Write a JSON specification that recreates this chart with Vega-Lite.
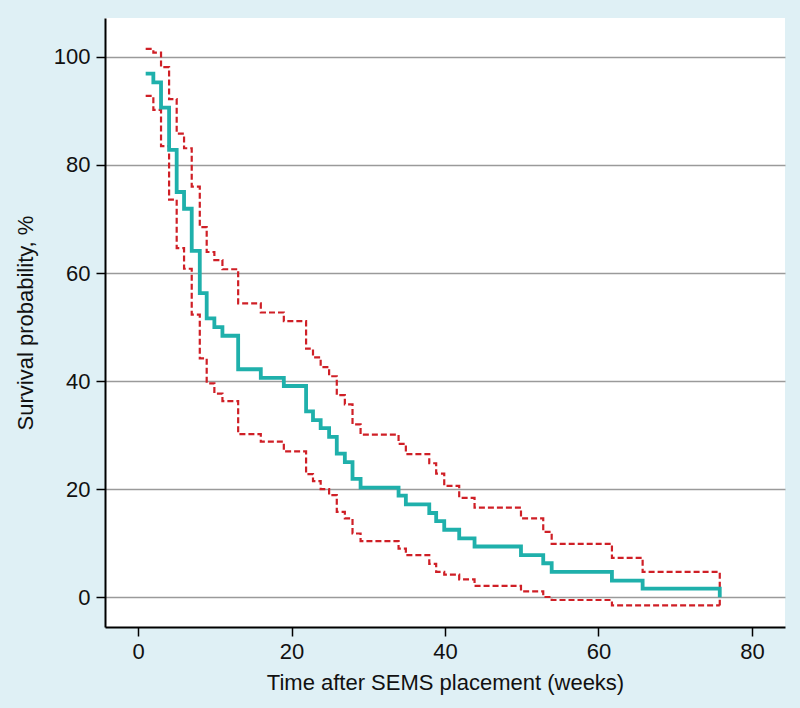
{
  "$schema": "https://vega.github.io/schema/vega-lite/v6.json",
  "width": 680,
  "height": 609,
  "autosize": {"type": "none"},
  "padding": {"left": 105, "top": 18, "right": 15, "bottom": 81},
  "background": "#dff0f5",
  "config": {
    "view": {"fill": "#ffffff", "stroke": null},
    "font": "Liberation Sans",
    "axis": {
      "domainColor": "#000000",
      "domainWidth": 2,
      "tickColor": "#000000",
      "tickWidth": 1.5,
      "tickSize": 9,
      "labelFont": "Liberation Sans",
      "labelFontSize": 22,
      "labelColor": "#111111",
      "titleFont": "Liberation Sans",
      "titleFontSize": 22,
      "titleFontWeight": "normal",
      "titleColor": "#111111"
    }
  },
  "data": {
    "values": [
      {"t": 1.0, "s": 96.9, "lo": 92.8, "hi": 101.5},
      {"t": 2.0, "s": 95.3, "lo": 90.2, "hi": 100.8},
      {"t": 3.0, "s": 90.6, "lo": 83.5, "hi": 98.1},
      {"t": 4.05, "s": 82.8, "lo": 73.6, "hi": 92.2},
      {"t": 5.04, "s": 75.0, "lo": 64.6, "hi": 85.8},
      {"t": 6.0, "s": 71.9, "lo": 60.8, "hi": 83.1},
      {"t": 7.0, "s": 64.1, "lo": 52.3, "hi": 76.0},
      {"t": 8.05, "s": 56.3, "lo": 44.2, "hi": 68.5},
      {"t": 8.95, "s": 51.6, "lo": 39.6, "hi": 63.9},
      {"t": 9.95, "s": 50.0, "lo": 37.7, "hi": 62.4},
      {"t": 11.0, "s": 48.4, "lo": 36.3, "hi": 60.7},
      {"t": 13.05, "s": 42.2, "lo": 30.2, "hi": 54.4},
      {"t": 16.0, "s": 40.6, "lo": 28.8, "hi": 52.7},
      {"t": 19.0, "s": 39.1, "lo": 27.0, "hi": 51.1},
      {"t": 21.9, "s": 34.4, "lo": 22.8, "hi": 46.0},
      {"t": 22.8, "s": 32.8, "lo": 21.5, "hi": 44.4},
      {"t": 23.8, "s": 31.3, "lo": 20.0, "hi": 42.6},
      {"t": 24.9, "s": 29.7, "lo": 18.9, "hi": 40.9},
      {"t": 25.9, "s": 26.6, "lo": 15.8, "hi": 37.4},
      {"t": 26.95, "s": 25.0, "lo": 14.6, "hi": 35.7},
      {"t": 27.95, "s": 21.9, "lo": 11.8, "hi": 32.0},
      {"t": 29.0, "s": 20.3, "lo": 10.4, "hi": 30.1},
      {"t": 33.95, "s": 18.8, "lo": 9.0, "hi": 28.4},
      {"t": 34.9, "s": 17.2, "lo": 7.8, "hi": 26.5},
      {"t": 37.95, "s": 15.6, "lo": 6.2, "hi": 24.8},
      {"t": 38.85, "s": 14.1, "lo": 4.7, "hi": 22.9},
      {"t": 39.9, "s": 12.5, "lo": 4.2, "hi": 20.6},
      {"t": 41.85, "s": 10.9, "lo": 3.3, "hi": 18.4},
      {"t": 43.85, "s": 9.4, "lo": 2.1, "hi": 16.6},
      {"t": 49.9, "s": 7.8, "lo": 1.1, "hi": 14.6},
      {"t": 52.8, "s": 6.3, "lo": 0.05, "hi": 12.1},
      {"t": 53.9, "s": 4.7, "lo": -0.5, "hi": 9.9},
      {"t": 61.75, "s": 3.1, "lo": -1.5, "hi": 7.3},
      {"t": 65.75, "s": 1.6, "lo": -1.5, "hi": 4.7},
      {"t": 75.8, "s": 0.0, "lo": -1.5, "hi": -1.5}
    ]
  },
  "encoding": {
    "x": {
      "field": "t",
      "type": "quantitative",
      "scale": {"domain": [-4.3, 84.3], "nice": false, "zero": false},
      "axis": {
        "values": [0, 20, 40, 60, 80],
        "grid": false,
        "title": "Time after SEMS placement (weeks)",
        "labelPadding": 5,
        "titlePadding": 10
      }
    }
  },
  "layer": [
    {
      "mark": {"type": "line", "interpolate": "step-after", "color": "#cf1f26", "strokeWidth": 2.2, "strokeDash": [6, 3]},
      "encoding": {
        "y": {
          "field": "hi",
          "type": "quantitative",
          "scale": {"domain": [-5.5, 107.2], "nice": false, "zero": false},
          "axis": {
            "values": [0, 20, 40, 60, 80, 100],
            "grid": true,
            "gridColor": "#9a9a9a",
            "gridWidth": 1.5,
            "title": "Survival probability, %",
            "labelPadding": 6,
            "titlePadding": 16
          }
        }
      }
    },
    {
      "mark": {"type": "line", "interpolate": "step-after", "color": "#cf1f26", "strokeWidth": 2.2, "strokeDash": [6, 3]},
      "encoding": {"y": {"field": "lo", "type": "quantitative"}}
    },
    {
      "mark": {"type": "line", "interpolate": "step-after", "color": "#1fb0ab", "strokeWidth": 3.8},
      "encoding": {"y": {"field": "s", "type": "quantitative"}}
    }
  ]
}
